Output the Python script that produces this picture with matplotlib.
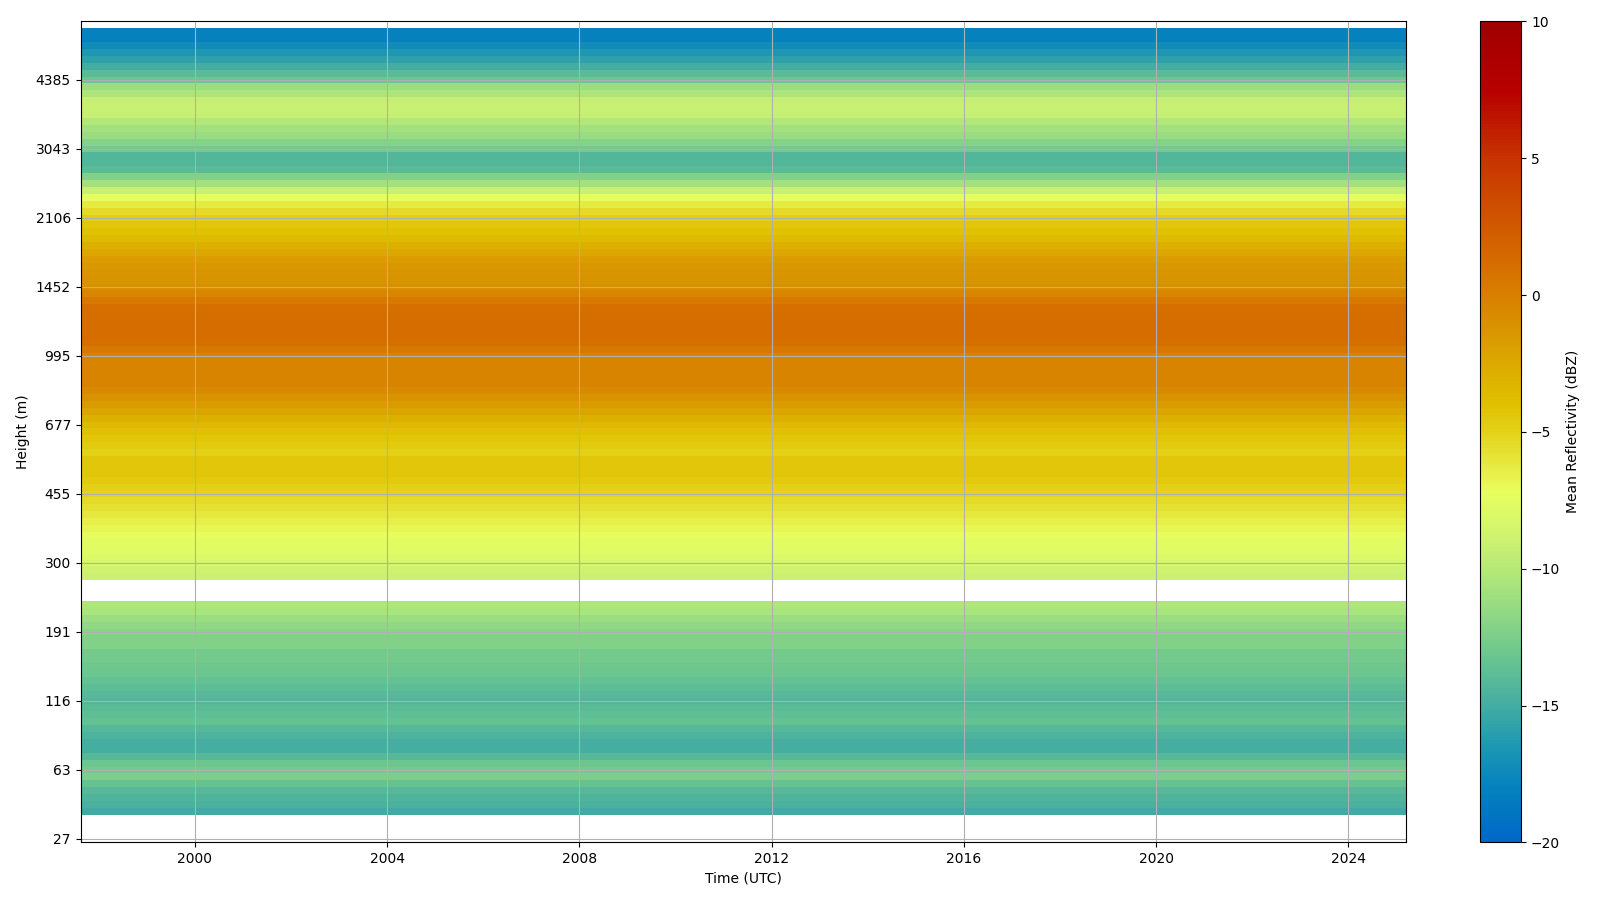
import numpy as np
import pandas as pd
import matplotlib
matplotlib.use('Agg')
import matplotlib.pyplot as plt
from matplotlib.colors import LinearSegmentedColormap

# height bins (index) -> mean reflectivity profile, constant in time
n_bins = 119
nan = np.nan
profile = [
    nan, nan, nan, nan, -15.1, -14.7, -14.4, -14.1, -13.4, -12.5,    # 0-9
    -12.8, -13.2, -14.2, -14.9, -14.9, -14.6, -14.2, -13.5, -13.7, -14.0,  # 10-19
    -14.3, -14.1, -13.8, -13.5, -13.2, -13.0, -12.8, -12.8, -12.2, -12.2,  # 20-29
    -12.0, -11.6, -11.2, -10.6, -10.3, nan, nan, nan, -9.1, -8.8,        # 30-39
    -8.3, -8.0, -7.6, -7.6, -7.3, -6.8, -6.5, -6.1, -5.8, -5.4,          # 40-49
    -5.1, -4.9, -4.6, -4.3, -4.3, -4.4, -4.9, -4.6, -4.4, -4.0,          # 50-59
    -3.5, -2.9, -2.3, -1.7, -1.2, -0.7, -0.3, -0.2, -0.2, -0.2,          # 60-69
    -0.2, 0.5, 1.0, 1.1, 1.2, 1.2, 1.1, 1.0, 0.5, -0.4,                  # 70-79
    -1.0, -1.2, -1.3, -1.4, -1.8, -2.4, -3.0, -3.6, -4.1, -4.4,          # 80-89
    -4.8, -5.4, -6.2, -7.4, -9.2, -10.8, -12.2, -14.0, -14.3, -14.3,     # 90-99
    -12.8, -12.1, -11.3, -10.8, -10.2, -9.3, -9.2, -9.3, -10.4, -11.2,   # 100-109
    -13.2, -14.0, -15.0, -15.8, -16.5, -17.2, -18.0, -18.0, nan,         # 110-118
]
height_ticks = [0, 10, 20, 30, 40, 50, 60, 70, 80, 90, 100, 110]
height_labels = ['27', '63', '116', '191', '300', '455', '677', '995',
                 '1452', '2106', '3043', '4385']

time_edges = pd.date_range('1997-08-15', '2025-03-15', freq='SMS')

# colour map
cmap_vals = [-20, -18, -16.5, -15, -13.5, -12, -10.5, -9, -7.2, -6, -5, -4,
             -2.5, -1, 0, 1.5, 3, 5, 7.5, 10]
cmap_cols = ['#0068c6', '#0582be', '#1e98b2', '#45ada2', '#64c292', '#88d486',
             '#ace57c', '#ccf272', '#e8fe5e', '#e6e63a', '#e3d21a', '#e0c000',
             '#dcaa00', '#d89000', '#d88000', '#d46800', '#cf5200', '#c83400',
             '#b80000', '#a00000']
vmin, vmax = -20, 10
cmap = LinearSegmentedColormap.from_list(
    'refl', [((v - vmin) / (vmax - vmin), c) for v, c in zip(cmap_vals, cmap_cols)])

data = np.tile(np.array(profile)[:, None], (1, len(time_edges) - 1))
data = np.ma.masked_invalid(data)
y_edges = np.arange(n_bins + 1) - 0.5

fig = plt.figure(figsize=(16, 9), dpi=100)
ax = fig.add_axes([0.0504, 0.064, 0.8284, 0.9123])
mesh = ax.pcolormesh(time_edges, y_edges, data, cmap=cmap, vmin=vmin, vmax=vmax)
ax.set_ylim(-0.5, n_bins - 0.5)
ax.set_yticks(height_ticks)
ax.set_yticklabels(height_labels)
ax.set_xlabel('Time (UTC)')
ax.set_ylabel('Height (m)')
ax.grid(True)

cax = fig.add_axes([0.9252, 0.064, 0.0256, 0.9123])
cb = fig.colorbar(mesh, cax=cax)
cb.set_label('Mean Reflectivity (dBZ)')

fig.savefig('out.png', dpi=100)
